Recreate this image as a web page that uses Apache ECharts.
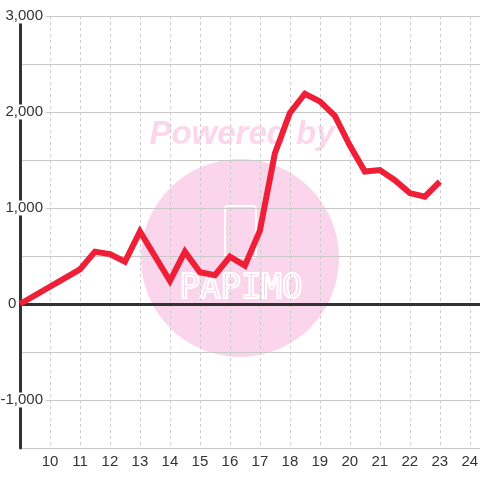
<!DOCTYPE html>
<html>
<head>
<meta charset="utf-8">
<script src="https://cdn.jsdelivr.net/npm/echarts@6/dist/echarts.min.js"></script>
<style>html,body{margin:0;padding:0;background:#fff}#c{width:480px;height:480px}</style>
</head>
<body>
<div id="c"></div>
<script>
const hours = [9, 11, 11.5, 12, 12.5, 13, 14, 14.5, 15, 15.5, 16, 16.5, 17, 17.5, 18, 18.5, 19, 19.5, 20, 20.5, 21, 21.5, 22, 22.5, 23];
const values = [0, 360, 545, 520, 440, 755, 240, 545, 330, 300, 493, 400, 765, 1570, 1990, 2190, 2110, 1960, 1650, 1380, 1395, 1290, 1155, 1118, 1275];
const xTickLabels = [10, 11, 12, 13, 14, 15, 16, 17, 18, 19, 20, 21, 22, 23, 24];
const yTickLabels = [-1000, 0, 1000, 2000, 3000];

const fmt = v => (v < 0 ? '-' : '') + Math.abs(v).toString().replace(/\B(?=(\d{3})+(?!\d))/g, ',');
const chart = echarts.init(document.getElementById('c'));
const font = 'Liberation Sans';
chart.setOption({
  backgroundColor: '#fff',
  animation: false,
  grid: { left: 20, right: 0, top: 16, bottom: 32, containLabel: false, outerBoundsMode: 'none' },
  graphic: [
    { type: 'circle', z: -1, shape: { cx: 240, cy: 258, r: 99 }, style: { fill: '#FBD5EC' } },
    { type: 'text', z: -1, x: 242, y: 135, style: { text: 'Powered by', font: 'italic bold 33px "Liberation Sans"', fill: '#FCD7EC', align: 'center', verticalAlign: 'middle' } },
    { type: 'rect', z: -1, shape: { x: 225, y: 206, width: 31, height: 51, r: 3 }, style: { fill: 'none', stroke: '#fff', lineWidth: 2 } },
    { type: 'text', z: -1, x: 241, y: 289, style: { text: 'PAPIMO', font: '34px "DejaVu Sans Mono"', fill: 'transparent', stroke: '#fff', lineWidth: 2, align: 'center', verticalAlign: 'middle' } }
  ],
  xAxis: {
    type: 'value', min: 9, max: 24.34, interval: 1,
    axisLine: { show: false }, axisTick: { show: false },
    axisLabel: {
      margin: 6, color: '#333', fontFamily: font, fontSize: 15,
      showMinLabel: true, showMaxLabel: false,
      formatter: v => xTickLabels.includes(v) ? String(v) : ''
    },
    splitLine: { show: true, lineStyle: { color: '#ccc', type: [3, 3], width: 1 } }
  },
  yAxis: [
    {
      type: 'value', min: -1500, max: 3000, interval: 500, z: 0,
      axisLine: { show: false }, axisTick: { show: false }, axisLabel: { show: false },
      splitLine: { show: true, lineStyle: { color: '#c8c8c8', width: 1 } }
    },
    {
      type: 'value', min: -1500, max: 3000, interval: 500, position: 'left', z: 6,
      axisLine: { show: true, onZero: false, lineStyle: { color: '#333', width: 3 } },
      axisTick: { show: false },
      splitLine: { show: false },
      axisLabel: {
        margin: -26, align: 'right', color: '#333', fontFamily: font, fontSize: 15,
        formatter: v => {
          if (!yTickLabels.includes(v)) return '';
          if (v === 0) return '{z|0}';
          return '{a|' + fmt(v) + '}';
        },
        rich: {
          a: { backgroundColor: '#fff', padding: [0, 3, 0, 0], lineHeight: 15, fontSize: 15, fontFamily: font, color: '#333' },
          z: { width: 38, align: 'left', fontSize: 15, fontFamily: font, color: '#333' }
        }
      }
    }
  ],
  series: [
    {
      type: 'line', data: [], yAxisIndex: 0, z: 1, silent: true,
      markLine: {
        silent: true, symbol: ['none', 'none'], label: { show: false },
        lineStyle: { color: '#333', width: 3, type: 'solid' },
        data: [{ yAxis: 0 }]
      }
    },
    {
      type: 'line', yAxisIndex: 0, z: 8,
      data: hours.map((h, i) => [h, values[i]]),
      showSymbol: false, symbol: 'none',
      lineStyle: { color: '#EE1F36', width: 6, join: 'miter' }
    }
  ]
});
</script>
</body>
</html>
